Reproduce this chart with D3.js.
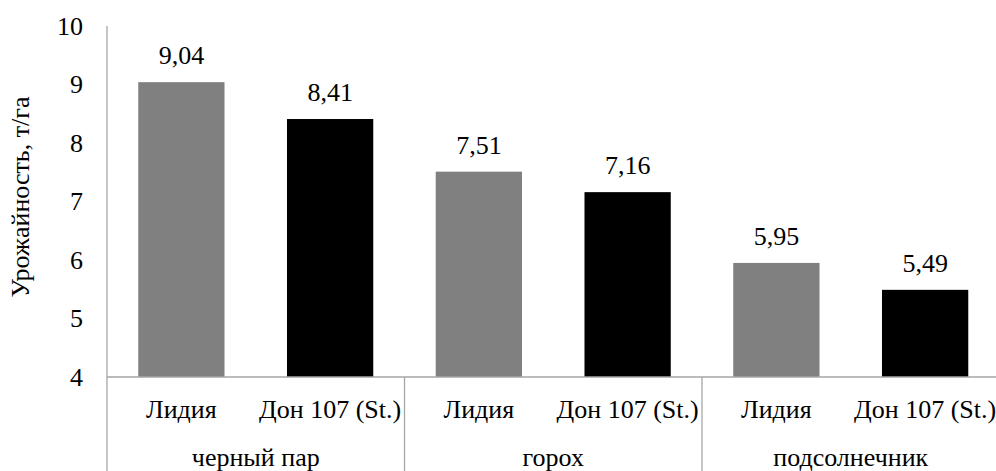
<!DOCTYPE html>
<html>
<head>
<meta charset="utf-8">
<script src="https://cdn.jsdelivr.net/npm/d3@7"></script>
<style>
  html, body { margin: 0; padding: 0; background: #fff; }
</style>
</head>
<body>
<svg id="chart" width="996" height="471"></svg>
<script>
const groups = ["черный пар", "горох", "подсолнечник"];
const varieties = ["Лидия", "Дон 107 (St.)"];
const values = [9.04, 8.41, 7.51, 7.16, 5.95, 5.49];
const valueLabels = ["9,04", "8,41", "7,51", "7,16", "5,95", "5,49"];
const yTicks = [4, 5, 6, 7, 8, 9, 10];
const yTitle = "Урожайность, т/га";
const colors = ["#808080", "#000000"];

const svg = d3.select("#chart");
const mLeft = 107, mRight = 999.5, mTop = 26, mBottom = 377;
const FONT = "'Liberation Serif'";
const fs = "26px";

function styleText(sel) {
  return sel.style("font-family", FONT).style("font-size", fs).style("fill", "#000");
}

const items = [];
groups.forEach((g, gi) => varieties.forEach((v, vi) => {
  items.push({ key: gi + "-" + vi, group: g, variety: v, vi: vi, value: values[gi * 2 + vi], label: valueLabels[gi * 2 + vi] });
}));

const x = d3.scaleBand().domain(items.map(d => d.key)).range([mLeft, mRight]).paddingInner(0.42).paddingOuter(0.21);
const xg = d3.scaleBand().domain(groups).range([mLeft, mRight]);
const y = d3.scaleLinear().domain([4, 10]).range([mBottom, mTop]);

const axisColor = "#a6a6a6";

svg.selectAll("rect.bar").data(items).join("rect")
  .attr("class", "bar")
  .attr("x", d => x(d.key))
  .attr("width", x.bandwidth())
  .attr("y", d => y(d.value))
  .attr("height", d => y(4) - y(d.value))
  .attr("fill", d => colors[d.vi]);

styleText(svg.selectAll("text.val").data(items).join("text")
  .attr("class", "val")
  .attr("x", d => x(d.key) + x.bandwidth() / 2)
  .attr("y", d => y(d.value) - 18)
  .attr("text-anchor", "middle")
  .text(d => d.label));

const yAxis = d3.axisLeft(y).tickValues(yTicks).tickSize(0).tickPadding(24).tickFormat(d3.format("d"));
const yg = svg.append("g").attr("transform", `translate(${mLeft},0)`).call(yAxis);
yg.select(".domain").remove();
styleText(yg.selectAll("text"));

svg.append("line").attr("x1", mLeft).attr("x2", mLeft).attr("y1", mTop).attr("y2", 471)
  .attr("stroke", axisColor).attr("stroke-width", 1.3);

svg.append("line").attr("x1", mLeft).attr("x2", 996).attr("y1", mBottom).attr("y2", mBottom)
  .attr("stroke", axisColor).attr("stroke-width", 1.3);

svg.selectAll("line.sep").data(groups.slice(1)).join("line")
  .attr("class", "sep")
  .attr("x1", d => xg(d)).attr("x2", d => xg(d))
  .attr("y1", mBottom).attr("y2", 471)
  .attr("stroke", axisColor).attr("stroke-width", 1.3);

styleText(svg.selectAll("text.var").data(items).join("text")
  .attr("class", "var")
  .attr("x", d => x(d.key) + x.bandwidth() / 2)
  .attr("y", 418)
  .attr("text-anchor", "middle")
  .text(d => d.variety));

styleText(svg.selectAll("text.grp").data(groups).join("text")
  .attr("class", "grp")
  .attr("x", d => xg(d) + xg.bandwidth() / 2)
  .attr("y", 466)
  .attr("text-anchor", "middle")
  .text(d => d));

styleText(svg.append("text")
  .attr("transform", `translate(29,197) rotate(-90)`)
  .attr("text-anchor", "middle")
  .text(yTitle));
</script>
</body>
</html>
